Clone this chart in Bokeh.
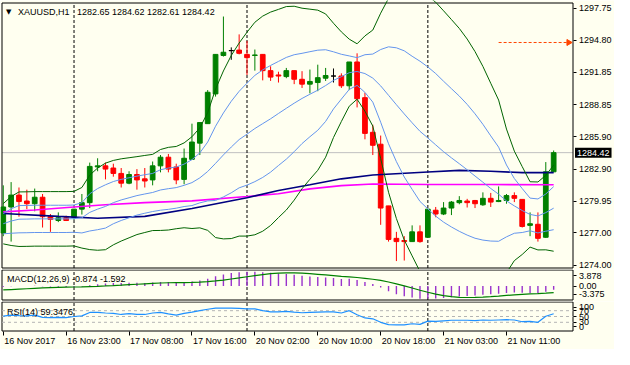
import numpy as np
from bokeh.plotting import figure
from bokeh.models import (Range1d, FixedTicker, ColumnDataSource, Label, LabelSet,
                          NumeralTickFormatter, LinearAxis)
from bokeh.core.properties import value
from bokeh.layouts import column
from bokeh.embed import file_html
from bokeh.resources import INLINE

# ------------------------------------------------------------------ data
symbol = "XAUUSD,H1"

opens = [1277.0, 1279.4, 1280.5, 1279.95, 1279.7, 1280.3, 1278.5, 1278.15, 1278.4, 1278.45,
         1279.2, 1279.8, 1283.1, 1283.2, 1283.0, 1282.5, 1281.6, 1282.4, 1282.0, 1281.9,
         1283.2, 1284.0, 1283.1, 1281.95, 1283.8, 1285.3, 1287.1, 1289.85, 1293.4, 1293.85,
         1293.9, 1293.5, 1293.4, 1293.5, 1292.0, 1291.6, 1291.45, 1292.0, 1291.2, 1290.75,
         1290.9, 1291.3, 1291.5, 1291.5, 1290.6, 1292.8, 1289.5, 1286.3, 1285.2, 1279.5,
         1276.5, 1276.3, 1276.2, 1277.1, 1276.6, 1279.1, 1278.75, 1279.3, 1279.8, 1279.95,
         1280.0, 1279.6, 1280.2, 1279.9, 1280.0, 1280.45, 1280.1, 1277.7, 1277.8, 1276.6,
         1282.65]
highs = [1281.4, 1281.7, 1281.2, 1281.0, 1281.1, 1280.6, 1278.75, 1278.9, 1278.6, 1279.2,
         1280.6, 1283.5, 1283.9, 1283.5, 1283.4, 1283.0, 1282.7, 1282.9, 1283.0, 1283.6,
         1284.2, 1284.3, 1283.4, 1284.8, 1287.1, 1287.2, 1290.2, 1293.5, 1297.0, 1294.15,
         1295.35, 1294.75, 1293.95, 1293.5, 1292.4, 1291.9, 1292.25, 1292.0, 1291.95, 1292.1,
         1292.55, 1292.25, 1292.2, 1291.75, 1292.8, 1293.6, 1289.95, 1287.0, 1286.0, 1279.5,
         1277.1, 1276.7, 1277.7, 1277.7, 1279.2, 1279.4, 1279.85, 1279.95, 1280.4, 1280.15,
         1280.05, 1280.75, 1280.7, 1281.3, 1280.6, 1280.75, 1280.1, 1278.9, 1278.9, 1283.55,
         1284.62]
lows = [1276.7, 1276.2, 1278.5, 1279.2, 1279.0, 1277.5, 1277.1, 1278.0, 1278.1, 1278.2,
        1278.7, 1279.3, 1282.7, 1281.95, 1282.2, 1281.2, 1281.5, 1281.0, 1281.2, 1281.4,
        1282.6, 1282.6, 1281.5, 1281.5, 1283.8, 1284.2, 1287.1, 1289.6, 1293.3, 1293.0,
        1293.5, 1291.6, 1292.0, 1291.1, 1291.05, 1290.9, 1291.3, 1290.75, 1290.4, 1289.9,
        1290.1, 1291.05, 1290.9, 1290.4, 1290.2, 1288.6, 1285.65, 1284.2, 1277.75, 1276.2,
        1274.4, 1274.45, 1276.2, 1276.1, 1276.6, 1278.45, 1278.65, 1278.65, 1279.65, 1279.35,
        1279.3, 1279.5, 1279.4, 1279.85, 1279.7, 1279.85, 1277.5, 1276.7, 1276.2, 1276.55,
        1282.61]
closes = [1279.4, 1280.5, 1279.9, 1279.7, 1280.3, 1278.5, 1278.25, 1278.4, 1278.15, 1279.2,
          1279.8, 1283.15, 1283.2, 1282.9, 1282.5, 1281.6, 1282.4, 1281.9, 1281.8, 1283.2,
          1284.0, 1282.9, 1281.9, 1283.9, 1285.4, 1287.2, 1290.0, 1293.5, 1293.7, 1293.85,
          1293.6, 1293.2, 1293.45, 1292.0, 1291.4, 1291.5, 1292.0, 1291.2, 1290.75, 1291.0,
          1291.35, 1291.55, 1291.5, 1290.6, 1292.8, 1289.4, 1286.2, 1285.1, 1279.3, 1276.4,
          1276.2, 1276.2, 1277.1, 1276.2, 1279.2, 1278.75, 1279.3, 1279.85, 1280.0, 1279.8,
          1279.7, 1280.2, 1279.85, 1280.0, 1280.45, 1280.2, 1277.6, 1277.85, 1276.5, 1282.65,
          1284.42]

# Bollinger(20): middle line and one standard deviation, read per bar
bb_mid = [1277.85, 1278.10, 1278.27, 1278.28, 1278.30, 1278.30, 1278.30, 1278.30, 1278.30, 1278.32,
          1278.40, 1278.90, 1279.20, 1279.45, 1279.80, 1280.05, 1280.25, 1280.45, 1280.60, 1280.74,
          1280.97, 1281.09, 1281.19, 1281.40, 1281.65, 1282.09, 1282.68, 1283.43, 1284.21, 1284.94,
          1285.63, 1286.13, 1286.65, 1287.10, 1287.55, 1288.04, 1288.52, 1288.99, 1289.43, 1289.82,
          1290.19, 1290.62, 1291.10, 1291.44, 1291.81, 1291.92, 1291.73, 1291.31, 1290.59, 1289.72,
          1288.85, 1288.00, 1287.18, 1286.39, 1285.78, 1285.14, 1284.51, 1283.94, 1283.40, 1282.84,
          1282.26, 1281.69, 1281.11, 1280.58, 1279.96, 1279.50, 1279.07, 1278.71, 1278.57, 1278.88,
          1279.29]
bb_dev = [0.93, 1.13, 1.26, 1.26, 1.26, 1.26, 1.26, 1.26, 1.26, 1.26,
          1.40, 1.72, 1.90, 2.00, 1.95, 1.90, 1.85, 1.80, 1.78, 1.76,
          1.87, 1.91, 1.90, 1.96, 2.12, 2.31, 2.72, 3.43, 3.88, 4.23,
          4.46, 4.71, 4.91, 4.97, 4.93, 4.81, 4.70, 4.48, 4.17, 3.93,
          3.70, 3.31, 2.64, 2.07, 1.55, 1.28, 1.74, 2.22, 3.36, 4.48,
          5.26, 5.83, 6.15, 6.48, 6.56, 6.59, 6.51, 6.39, 6.25, 6.04,
          5.75, 5.35, 4.86, 4.35, 3.32, 2.53, 2.03, 1.51, 1.57, 1.72,
          1.99]

# slow moving averages (navy / magenta), read at these bars
ma_navy_bar = [0, 7, 12, 18, 24, 31, 35, 39, 43, 47, 54, 58, 62, 66, 70]
ma_navy_val = [1278.80, 1278.53, 1278.36, 1278.53, 1279.26, 1280.26, 1280.92, 1281.45,
               1282.00, 1282.35, 1282.63, 1282.78, 1282.70, 1282.57, 1282.57]
ma_mag_bar = [0, 4, 9, 13, 18, 24, 31, 35, 39, 43, 47, 54, 62, 70]
ma_mag_val = [1278.95, 1279.12, 1279.40, 1279.60, 1279.80, 1279.96, 1280.37, 1280.62,
              1281.07, 1281.37, 1281.52, 1281.47, 1281.47, 1281.45]

macd_main = [-0.17, -0.06, -0.01, 0.00, 0.06, -0.03, -0.13, -0.19, -0.25, -0.22,
             -0.14, 0.19, 0.45, 0.62, 0.72, 0.72, 0.77, 0.77, 0.74, 0.83,
             0.95, 0.95, 0.85, 0.93, 1.10, 1.36, 1.78, 2.36, 2.81, 3.14,
             3.34, 3.43, 3.48, 3.36, 3.19, 3.02, 2.89, 2.70, 2.48, 2.30,
             2.16, 2.04, 1.92, 1.73, 1.74, 1.46, 0.97, 0.48, -0.37, -1.26,
             -1.96, -2.49, -2.80, -3.08, -3.03, -2.99, -2.89, -2.72, -2.55, -2.41,
             -2.27, -2.10, -1.97, -1.84, -1.67, -1.55, -1.64, -1.67, -1.78, -1.36,
             -0.874]
macd_signal = [-0.95, -0.85, -0.75, -0.65, -0.55, -0.46, -0.38, -0.32, -0.27, -0.23,
               -0.19, -0.13, -0.06, 0.02, 0.11, 0.21, 0.32, 0.43, 0.54, 0.65,
               0.73, 0.79, 0.81, 0.83, 0.88, 0.94, 1.05, 1.23, 1.45, 1.70,
               1.96, 2.25, 2.53, 2.78, 2.99, 3.13, 3.18, 3.17, 3.10, 2.98,
               2.84, 2.68, 2.52, 2.36, 2.22, 2.06, 1.87, 1.64, 1.35, 0.97,
               0.52, 0.03, -0.47, -1.01, -1.50, -1.94, -2.32, -2.58, -2.72, -2.77,
               -2.75, -2.67, -2.55, -2.42, -2.27, -2.12, -2.00, -1.90, -1.83, -1.73,
               -1.592]
macd_scale_lo, macd_scale_hi = -3.375, 3.878

rsi14 = [51, 55, 53, 52, 55, 47, 46, 47, 46, 50,
         52, 64, 64, 62, 61, 57, 60, 57, 57, 62,
         64, 59, 55, 61, 65, 70, 75, 79, 79, 79,
         78, 76, 76, 70, 66, 66, 68, 65, 63, 64,
         65, 66, 66, 62, 70, 56, 45, 42, 30, 22,
         21, 21, 25, 23, 34, 33, 35, 37, 37, 37,
         36, 38, 37, 38, 39, 38, 32, 33, 30, 51,
         59.3476]
rsi_levels = [30, 50, 70]

price_lo, price_hi = 1273.76, 1298.25
price_ticks = [1274.00, 1277.00, 1279.95, 1282.90, 1285.90, 1288.85, 1291.85, 1294.80, 1297.75]
time_tick_bars = [0, 8, 16, 24, 32, 40, 48, 56, 64]
time_tick_labels = ["16 Nov 2017", "16 Nov 23:00", "17 Nov 08:00", "17 Nov 16:00",
                    "20 Nov 02:00", "20 Nov 10:00", "20 Nov 18:00", "21 Nov 03:00",
                    "21 Nov 11:00"]
day_sep_bars = [9, 31, 54]
alert_price = 1294.6
alert_start_bar = 63

# ------------------------------------------------------------------ style
IVORY = "#FFFFF0"
FONT = "Liberation Sans"
FS = "9px"
BULL, BEAR, DOJI = "#008000", "#FF0000", "#000000"
BB_OUT, BB_IN = "#006400", "#6495ED"
NAVY, MAGENTA = "#000080", "#FF00FF"
PURPLE, SIG = "#9932CC", "#008000"
RSI_C = "#1E90FF"

W = 614
BOX_LEFT_PX = 1.5
BOX_W = 571

n = len(closes)
idx = np.arange(n)
o = np.array(opens); h = np.array(highs); l = np.array(lows); c = np.array(closes)
mid = np.array(bb_mid); dev = np.array(bb_dev)

x0, x1 = -0.16, (n - 1) + 2.46          # visible bar span of the chart boxes
ppb = BOX_W / (x1 - x0)                  # pixels per bar
xs = x0 - BOX_LEFT_PX / ppb
xr = Range1d(xs, xs + W / ppb)


def panel(height, lo, hi, top_pad, bottom_pad):
    ppu = (height - top_pad - bottom_pad) / (hi - lo)
    fig = figure(width=W, height=height, x_range=xr,
                 y_range=Range1d(lo - bottom_pad / ppu, hi + top_pad / ppu),
                 x_axis_location=None, y_axis_location=None,
                 output_backend="svg", toolbar_location=None,
                 min_border_left=0, min_border_right=0,
                 min_border_top=0, min_border_bottom=0)
    fig.background_fill_color = IVORY
    fig.border_fill_color = IVORY
    fig.outline_line_color = None
    fig.grid.visible = False
    fig.quad(left=[x0], right=[x1], bottom=[lo], top=[hi], fill_color=None,
             line_color="black", line_width=1)
    ax = LinearAxis(fixed_location=x1, bounds=(lo, hi))
    ax.major_tick_in = 0
    ax.major_tick_out = 3
    ax.minor_tick_line_color = None
    ax.axis_line_color = None
    ax.major_tick_line_color = "black"
    ax.major_label_standoff = 3
    ax.major_label_text_font = FONT
    ax.major_label_text_font_size = FS
    ax.major_label_text_color = "black"
    fig.add_layout(ax, "right")
    fig.segment(x0=day_sep_bars, y0=[lo] * len(day_sep_bars), x1=day_sep_bars,
                y1=[hi] * len(day_sep_bars), line_color="black", line_dash="3 2",
                line_width=1)
    return fig, ax, ppu


# ------------------------------------------------------------------ main panel
pm, axm, ppu_m = panel(269, price_lo, price_hi, 2.5, 1.5)
axm.ticker = FixedTicker(ticks=price_ticks)
axm.formatter = NumeralTickFormatter(format="0.00")

pm.segment(x0=[x0], y0=[closes[-1]], x1=[x1], y1=[closes[-1]], line_color="#C0C0C0",
           line_width=1, level="underlay")

colors = np.where(c > o, BULL, np.where(c < o, BEAR, DOJI))
src = ColumnDataSource(dict(x=idx, h=h, l=l, top=np.maximum(o, c), bot=np.minimum(o, c),
                            color=colors))
pm.segment(x0="x", y0="l", x1="x", y1="h", line_color="color", line_width=1, source=src)
pm.vbar(x="x", width=0.6, top="top", bottom="bot", fill_color="color",
        line_color="color", line_width=1, source=src)

pm.line(ma_mag_bar, ma_mag_val, line_color=MAGENTA, line_width=1.6)
pm.line(ma_navy_bar, ma_navy_val, line_color=NAVY, line_width=1.6)
for k, col in ((2, BB_OUT), (-2, BB_OUT), (1, BB_IN), (0, BB_IN), (-1, BB_IN)):
    yv = np.clip(mid + k * dev, price_lo - 5, price_hi + 5)
    pm.line(idx, yv, line_color=col, line_width=1)

pm.segment(x0=[alert_start_bar], y0=[alert_price], x1=[x1 - 0.75], y1=[alert_price],
           line_color="#FF4500", line_dash="3 2", line_width=1)
pm.scatter(x=[x1 - 0.55], y=[alert_price], marker="triangle", angle=-np.pi / 2,
           size=6, fill_color="#FF4500", line_color="#FF4500")

pm.add_layout(Label(x=x0, y=price_hi, x_offset=4, y_offset=-9, text="\u25bc",
                    text_font="DejaVu Sans", text_font_size="7px", text_baseline="middle",
                    text_color="black"))
pm.add_layout(Label(x=x0, y=price_hi, x_offset=16, y_offset=-9, text=symbol,
                    text_font=FONT, text_font_size=FS, text_baseline="middle",
                    text_color="black"))
pm.add_layout(Label(x=x0, y=price_hi, x_offset=75, y_offset=-9,
                    text=f"{opens[-1]:.2f} {highs[-1]:.2f} {lows[-1]:.2f} {closes[-1]:.2f}",
                    text_font=FONT, text_font_size=FS, text_baseline="middle",
                    text_color="black"))
pm.add_layout(Label(x=x1, y=closes[-1], x_offset=2, text=f"{closes[-1]:.2f}",
                    text_font=FONT, text_font_size=FS, text_baseline="middle",
                    text_color="white", background_fill_color="black", padding=2))

# ------------------------------------------------------------------ MACD panel
pc, axc, ppu_c = panel(32, macd_scale_lo, macd_scale_hi, 0.5, 1.5)
t_hi = macd_scale_hi - 5.7 / ppu_c
t_lo = macd_scale_lo + 6.0 / ppu_c
axc.ticker = FixedTicker(ticks=[t_lo, 0.0, t_hi])
axc.major_label_overrides = {t_lo: f"{macd_scale_lo:.3f}", 0.0: "0.00",
                             t_hi: f"{macd_scale_hi:.3f}"}
pc.segment(x0=idx, y0=np.zeros(n), x1=idx, y1=macd_main, line_color=PURPLE,
           line_width=1.4)
pc.line(idx, macd_signal, line_color=SIG, line_width=1.2)
pc.add_layout(Label(x=x0, y=macd_scale_hi, x_offset=5, y_offset=-8.5,
                    text=f"MACD(12,26,9) {macd_main[-1]:.3f} {macd_signal[-1]:.3f}",
                    text_font=FONT, text_font_size=FS, text_baseline="middle",
                    text_color="black"))

# ------------------------------------------------------------------ RSI panel
pr, axr, ppu_r = panel(48, 0, 100, 0.5, 18.5)
r_hi = 100 - 5.3 / ppu_r
r_lo = 0 + 4.3 / ppu_r
axr.ticker = FixedTicker(ticks=[r_lo] + [float(v) for v in rsi_levels] + [r_hi])
ov = {r_lo: "0", r_hi: "100"}
for lv in rsi_levels:
    ov[float(lv)] = str(lv)
axr.major_label_overrides = ov

xa = LinearAxis(fixed_location=0.0, bounds=(x0, x1))
xa.ticker = FixedTicker(ticks=time_tick_bars)
xa.major_tick_in = 0
xa.major_tick_out = 4
xa.minor_tick_line_color = None
xa.axis_line_color = None
xa.major_tick_line_color = "black"
xa.major_label_text_font_size = "0px"
xa.major_label_text_color = None
pr.add_layout(xa, "below")

pr.segment(x0=[x0] * len(rsi_levels), y0=rsi_levels, x1=[x1] * len(rsi_levels),
           y1=rsi_levels, line_color="#B4B4B4", line_dash="3 3", line_width=1)
pr.line(idx, rsi14, line_color=RSI_C, line_width=1.2)
pr.add_layout(Label(x=x0, y=100, x_offset=5, y_offset=-9.5,
                    text=f"RSI(14) {rsi14[-1]:.4f}",
                    text_font=FONT, text_font_size=FS, text_baseline="middle",
                    text_color="black"))
tsrc = ColumnDataSource(dict(x=time_tick_bars, y=[-5.0 / ppu_r] * len(time_tick_bars),
                             text=time_tick_labels))
pr.add_layout(LabelSet(x="x", y="y", text="text", source=tsrc, x_offset=1,
                       text_font=value(FONT), text_font_size=value(FS),
                       text_align="left", text_baseline="top", text_color="black"))

layout = column(pm, pc, pr, spacing=0)
open("out.html", "w").write(file_html(layout, INLINE))
